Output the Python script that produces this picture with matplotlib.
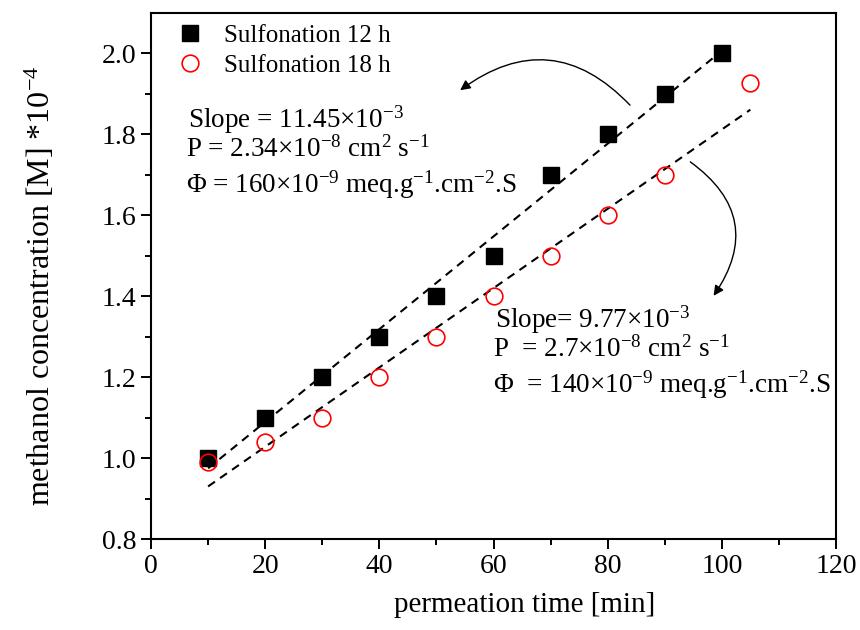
import numpy as np
import matplotlib.pyplot as plt
from matplotlib.ticker import MultipleLocator

plt.rcParams['font.family'] = ['Liberation Serif', 'DejaVu Serif']
plt.rcParams['mathtext.fontset'] = 'custom'
plt.rcParams['mathtext.rm'] = 'Liberation Serif'
plt.rcParams['mathtext.it'] = 'Liberation Serif:italic'

# data
t_12h = [10, 20, 30, 40, 50, 60, 70, 80, 90, 100]
c_12h = [1.0, 1.1, 1.2, 1.3, 1.4, 1.5, 1.7, 1.8, 1.9, 2.0]
t_18h = [10, 20, 30, 40, 50, 60, 70, 80, 90, 105]
c_18h = [0.99, 1.04, 1.1, 1.2, 1.3, 1.4, 1.5, 1.6, 1.7, 1.925]

fig = plt.figure(figsize=(8.6, 6.3), dpi=100)
ax = fig.add_axes([0.1756, 0.1444, 0.7965, 0.835])

# linear fits (dashed)
for t, c in [(t_12h, c_12h), (t_18h, c_18h)]:
    k, b = np.polyfit(t, c, 1)
    xs = np.array([t[0], t[-1]])
    ax.plot(xs, k * xs + b, color='black', linestyle=(0, (4, 3)), linewidth=1.5, zorder=1)

ax.plot(t_12h, c_12h, 's', color='black', markersize=11, label='Sulfonation 12 h', zorder=2)
ax.plot(t_18h, c_18h, 'o', markerfacecolor='none', markeredgecolor='red', markeredgewidth=1.2,
        markersize=12, label='Sulfonation 18 h', zorder=3)

ax.set_xlim(0, 120)
ax.set_ylim(0.8, 2.099)
ax.xaxis.set_major_locator(MultipleLocator(20))
ax.xaxis.set_minor_locator(MultipleLocator(10))
ax.yaxis.set_minor_locator(MultipleLocator(0.1))
ax.set_yticks(np.arange(0.8, 2.01, 0.2))
ax.set_yticklabels(['0.8', '1.0', '1.2', '1.4', '1.6', '1.8', '2.0'])
ax.tick_params(which='both', direction='out', labelsize=20, width=1.4)
ax.tick_params(which='major', length=7)
ax.tick_params(which='minor', length=4)
for s in ax.spines.values():
    s.set_linewidth(1.5)

ax.set_xlabel('permeation time [min]', fontsize=21, va='center')
ax.xaxis.set_label_coords(0.546, -0.125)
ax.set_ylabel(r'methanol concentration [M] *10$^{-4}$', fontsize=23, va='center')
ax.yaxis.set_label_coords(-0.162, 0.481)

ax.legend(loc='upper left', frameon=False, fontsize=18, handletextpad=0.35,
          borderaxespad=0.15, labelspacing=0.3, borderpad=0.3,
          bbox_to_anchor=(0.004, 1.0))

fs = 19.5
ax.text(0.054, 0.797, r'Slope = 11.45$\times$10$^{-3}$', transform=ax.transAxes, fontsize=fs, va='center')
ax.text(0.051, 0.741, r'P = 2.34$\times$10$^{-8}$ cm$^{2}$ s$^{-1}$', transform=ax.transAxes, fontsize=fs, va='center')
ax.text(0.051, 0.673, r'$\Phi$ = 160$\times$10$^{-9}$ meq.g$^{-1}$.cm$^{-2}$.S', transform=ax.transAxes, fontsize=fs, va='center')

ax.text(0.502, 0.416, r'Slope= 9.77$\times$10$^{-3}$', transform=ax.transAxes, fontsize=fs, va='center')
ax.text(0.499, 0.360, r'P  = 2.7$\times$10$^{-8}$ cm$^{2}$ s$^{-1}$', transform=ax.transAxes, fontsize=fs, va='center')
ax.text(0.499, 0.293, r'$\Phi$  = 140$\times$10$^{-9}$ meq.g$^{-1}$.cm$^{-2}$.S', transform=ax.transAxes, fontsize=fs, va='center')

ax.annotate('', xy=(0.448, 0.850), xytext=(0.702, 0.821), xycoords='axes fraction',
            arrowprops=dict(arrowstyle='-|>', color='black', lw=1.0,
                            connectionstyle='arc3,rad=0.45', mutation_scale=15))
ax.annotate('', xy=(0.819, 0.458), xytext=(0.784, 0.720), xycoords='axes fraction',
            arrowprops=dict(arrowstyle='-|>', color='black', lw=1.0,
                            connectionstyle='arc3,rad=-0.5', mutation_scale=15))

fig.savefig('out.png', dpi=100)
